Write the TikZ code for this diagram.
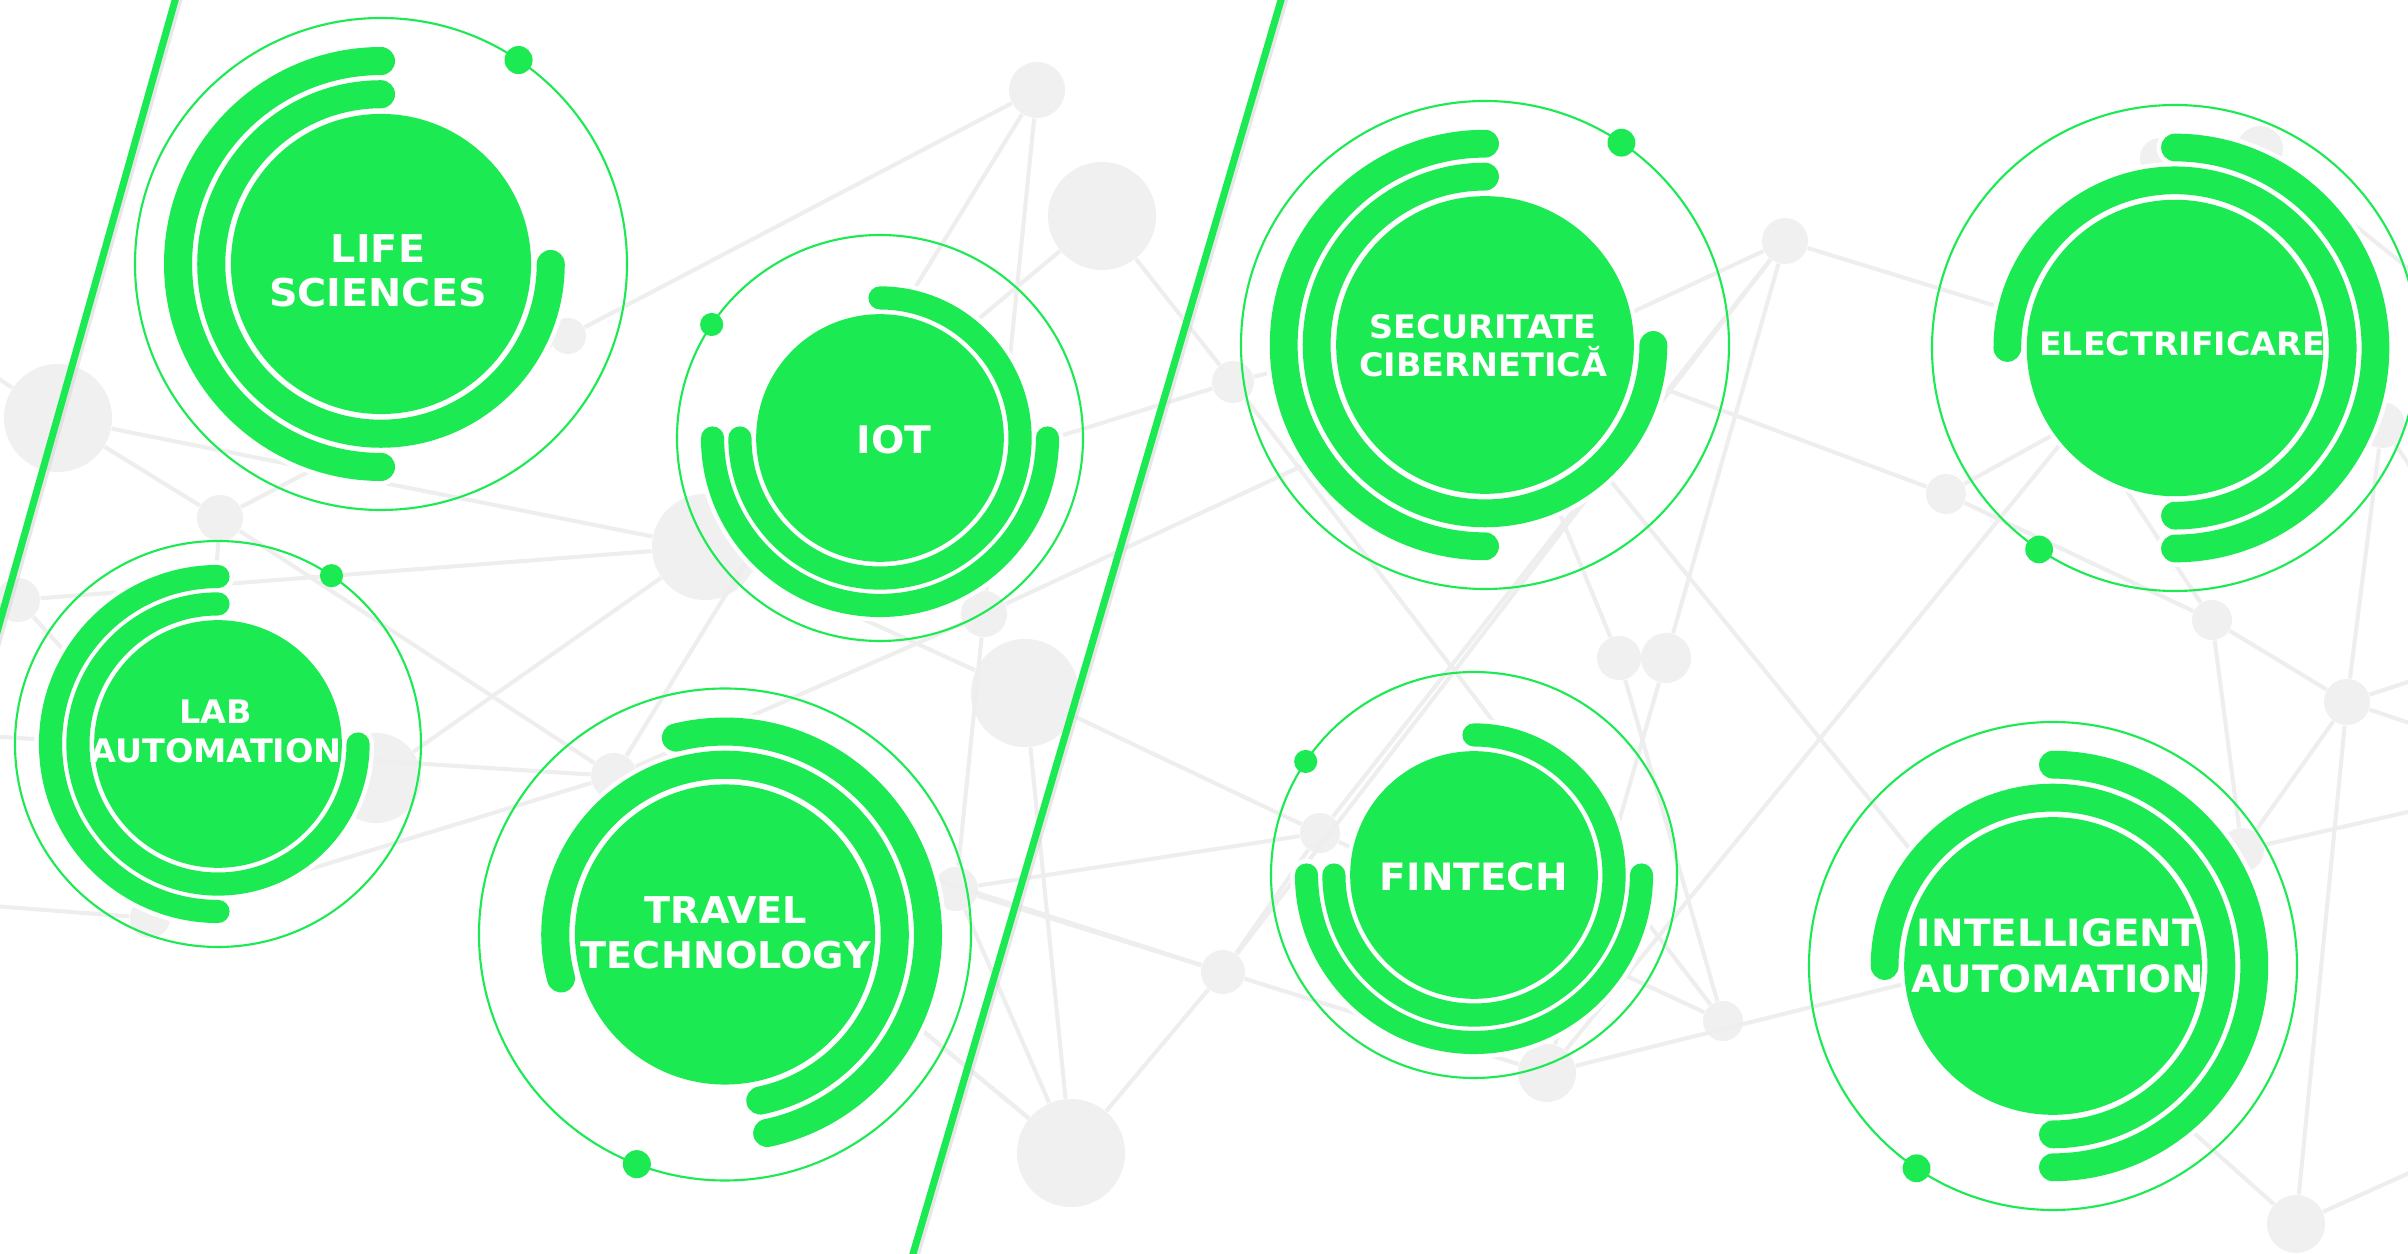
\documentclass[tikz,border=0pt]{standalone}
\usepackage{fontspec}
\setmainfont{DejaVu Sans}
\newfontfamily\lblfont[FakeStretch=1.035]{DejaVu Sans}
\definecolor{tgreen}{RGB}{28,234,82}
\definecolor{bggray}{RGB}{240,240,240}
\definecolor{bgline}{RGB}{238,238,238}
\definecolor{shade}{RGB}{215,215,215}

\newcommand\techring[8]{%
 \begin{scope}[shift={(#1,#2)}]
  \pgfmathsetmacro\rD{0.61*#3}
  \pgfmathsetmacro\rDH{0.61*#3+4}
  \pgfmathsetmacro\rA{0.69*#3}
  \pgfmathsetmacro\rB{0.825*#3}
  \pgfmathsetmacro\wG{0.114*#3*0.28453}
  \pgfmathsetmacro\wH{(0.114*#3+9)*0.28453}
  \pgfmathsetmacro\rDot{0.057*#3}
  \draw[thinring] (0,0) circle[radius=#3];
  \fill[tgreen] (#8:#3) circle[radius=\rDot];
  \draw[white, line width=\wH pt, line cap=round] (#6:\rB) arc[start angle=#6, end angle=#7, radius=\rB];
  \draw[white, line width=\wH pt, line cap=round] (#4:\rA) arc[start angle=#4, end angle=#5, radius=\rA];
  \fill[white] (0,0) circle[radius=\rDH];
  \draw[tgreen, line width=\wG pt, line cap=round] (#6:\rB) arc[start angle=#6, end angle=#7, radius=\rB];
  \draw[tgreen, line width=\wG pt, line cap=round] (#4:\rA) arc[start angle=#4, end angle=#5, radius=\rA];
  \fill[tgreen] (0,0) circle[radius=\rD];
 \end{scope}}

\begin{document}
\begin{tikzpicture}[x=0.01cm,y=0.01cm,
  bgnode/.style={circle, fill=bggray, inner sep=0pt, draw=none},
  bgedge/.style={draw=bgline, line width=1.15pt},
  thinring/.style={draw=tgreen, line width=0.6pt},
  ctext/.style={text=white, align=center, inner sep=0pt},
  diag/.style={draw=tgreen, line width=2pt},
  diagshade/.style={draw=shade, line width=1.2pt, opacity=0.6},
]
\useasboundingbox (0,0) rectangle (2408,1254);
\fill[white] (0,0) rectangle (2408,1254);

% ---- background network nodes ----
\node[bgnode, minimum size=0.56cm] (n1) at (1037,1164) {};
\node[bgnode, minimum size=1.08cm] (n2) at (1102,1038) {};
\node[bgnode, minimum size=0.36cm] (n3) at (568,918) {};
\node[bgnode, minimum size=1.08cm] (n4) at (58,836) {};
\node[bgnode, minimum size=0.46cm] (n5) at (220,736) {};
\node[bgnode, minimum size=1.06cm] (n6) at (705,707) {};
\node[bgnode, minimum size=0.42cm] (n7) at (1233,872) {};
\node[bgnode, minimum size=0.46cm] (n8) at (1785,1013) {};
\node[bgnode, minimum size=0.40cm] (n9) at (1946,760) {};
\node[bgnode, minimum size=0.40cm] (n10) at (2212,634) {};
\node[bgnode, minimum size=0.46cm] (n11) at (2347,552) {};
\node[bgnode, minimum size=0.44cm] (n12) at (1619,596) {};
\node[bgnode, minimum size=0.50cm] (n13) at (1666,596) {};
\node[bgnode, minimum size=1.08cm] (n14) at (1025,561) {};
\node[bgnode, minimum size=0.46cm] (n15) at (984,640) {};
\node[bgnode, minimum size=0.90cm] (n16) at (376,476) {};
\node[bgnode, minimum size=0.46cm] (n17) at (614,478) {};
\node[bgnode, minimum size=0.44cm] (n18) at (956,365) {};
\node[bgnode, minimum size=0.40cm] (n19) at (1320,421) {};
\node[bgnode, minimum size=0.44cm] (n20) at (1223,282) {};
\node[bgnode, minimum size=0.40cm] (n21) at (1723,233) {};
\node[bgnode, minimum size=0.58cm] (n22) at (1547,181) {};
\node[bgnode, minimum size=1.08cm] (n23) at (1071,101) {};
\node[bgnode, minimum size=0.58cm] (n24) at (2296,30) {};
\node[bgnode, minimum size=0.44cm] (n25) at (18,654) {};
\node[bgnode, minimum size=0.40cm] (n26) at (150,336) {};
\node[bgnode, minimum size=0.46cm] (n27) at (2382,829) {};
\node[bgnode, minimum size=0.46cm] (n28) at (2260,1105) {};
\node[bgnode, minimum size=0.44cm] (n29) at (2242,404) {};
\node[bgnode, minimum size=0.40cm] (n30) at (2160,1096) {};

\coordinate (h1) at (1480,934);
\coordinate (h2) at (2080,834);
\coordinate (h3) at (2000,294);
\coordinate (h4) at (800,324);
\coordinate (h5) at (200,454);
\coordinate (h6) at (380,954);
\coordinate (o1) at (-60,914);
\coordinate (o2) at (-60,521);
\coordinate (o3) at (-60,352);
\coordinate (o4) at (2460,589);
\coordinate (o5) at (2460,514);
\coordinate (o6) at (2460,104);
\coordinate (o7) at (2460,454);
\coordinate (o8) at (2460,944);
\coordinate (o9) at (2460,714);

% ---- background network edges ----
\foreach \a/\b in {n3/n1, n1/n15, n1/n17, n2/n6, n2/n7, n7/n6, n15/n8, n15/n17,
  n4/n6, n25/n6, n16/n6, n4/n5, n5/n3, n5/n17, o2/n17, n26/n17, n17/n20, n20/n8,
  n20/n23, n18/n20, n18/n23, n17/n23, n14/n23, n14/n19, n19/n21, n7/n21, n8/n19,
  n12/n21, n13/n22, n13/n8, n19/n20, n20/n22, n22/h3, n22/h2, n12/h1, h1/n9, h1/h3,
  n9/n10, n9/h2, n10/h2, n10/n11, n10/n29, n11/n27, n11/n24, n11/o4, n11/o5, n24/o6,
  n29/o7, n8/n27, n15/n18, n6/n14, n17/n18, o1/n4, o3/n26, n25/h5, n5/h5, n3/h6,
  h4/n23, h4/n18, n7/h1, n29/n11, n24/h3, n27/o9, n28/o8, n30/h2, n28/h2, n18/n19}
  \draw[bgedge] (\a) -- (\b);

% ---- green diagonal lines ----
\coordinate (g1a) at (178,1264);
\coordinate (g1b) at (-8,604);
\coordinate (g2a) at (1284,1264);
\coordinate (g2b) at (910,-10);
\draw[diagshade] ([xshift=0.05cm]g1a) -- ([xshift=0.05cm]g1b);
\draw[diagshade] ([xshift=0.05cm]g2a) -- ([xshift=0.05cm]g2b);
\draw[diag] (g1a) -- (g1b);
\draw[diag] (g2a) -- (g2b);

% ---- circles ----
% cx, cy, R, ringA start, ringA end, ringB start, ringB end, dot angle
\techring{381}{990}{246}{90}{360}{90}{270}{56}
\techring{880}{816}{203}{180}{450}{180}{360}{146}
\techring{218}{510}{203}{90}{360}{90}{270}{56}
\techring{725}{319.5}{246}{-78}{195}{-78}{104}{249}
\techring{1485}{909}{244}{90}{360}{90}{270}{56}
\techring{2175}{906}{243}{-90}{180}{-90}{90}{236}
\techring{1474}{379}{203}{180}{450}{180}{360}{146}
\techring{2053}{288}{244}{-90}{180}{-90}{90}{236}

% ---- labels ----
\node[ctext, font=\lblfont\bfseries\fontsize{10.9}{12.5}\selectfont] (tlife) at (378,983) {LIFE\\SCIENCES};
\node[ctext, font=\lblfont\bfseries\fontsize{10.8}{13}\selectfont] (tiot) at (894,814.5) {IOT};
\node[ctext, font=\lblfont\bfseries\fontsize{9.2}{11.1}\selectfont] (tlab) at (216,523) {LAB\\AUTOMATION};
\node[ctext, font=\lblfont\bfseries\fontsize{10.5}{12.8}\selectfont] (ttravel) at (726,321) {TRAVEL\\TECHNOLOGY};
\node[ctext, font=\lblfont\bfseries\fontsize{9.2}{10.8}\selectfont] (tsec) at (1483,908.5) {SECURITATE\\CIBERNETICĂ};
\node[ctext, font=\lblfont\bfseries\fontsize{9.15}{10.5}\selectfont] (telec) at (2182,910) {ELECTRIFICARE};
\node[ctext, font=\lblfont\bfseries\fontsize{10.7}{12.5}\selectfont] (tfin) at (1474,377) {FINTECH};
\node[ctext, font=\lblfont\bfseries\fontsize{10.7}{13.1}\selectfont] (tint) at (2058,298) {INTELLIGENT\\AUTOMATION};
\end{tikzpicture}
\end{document}
